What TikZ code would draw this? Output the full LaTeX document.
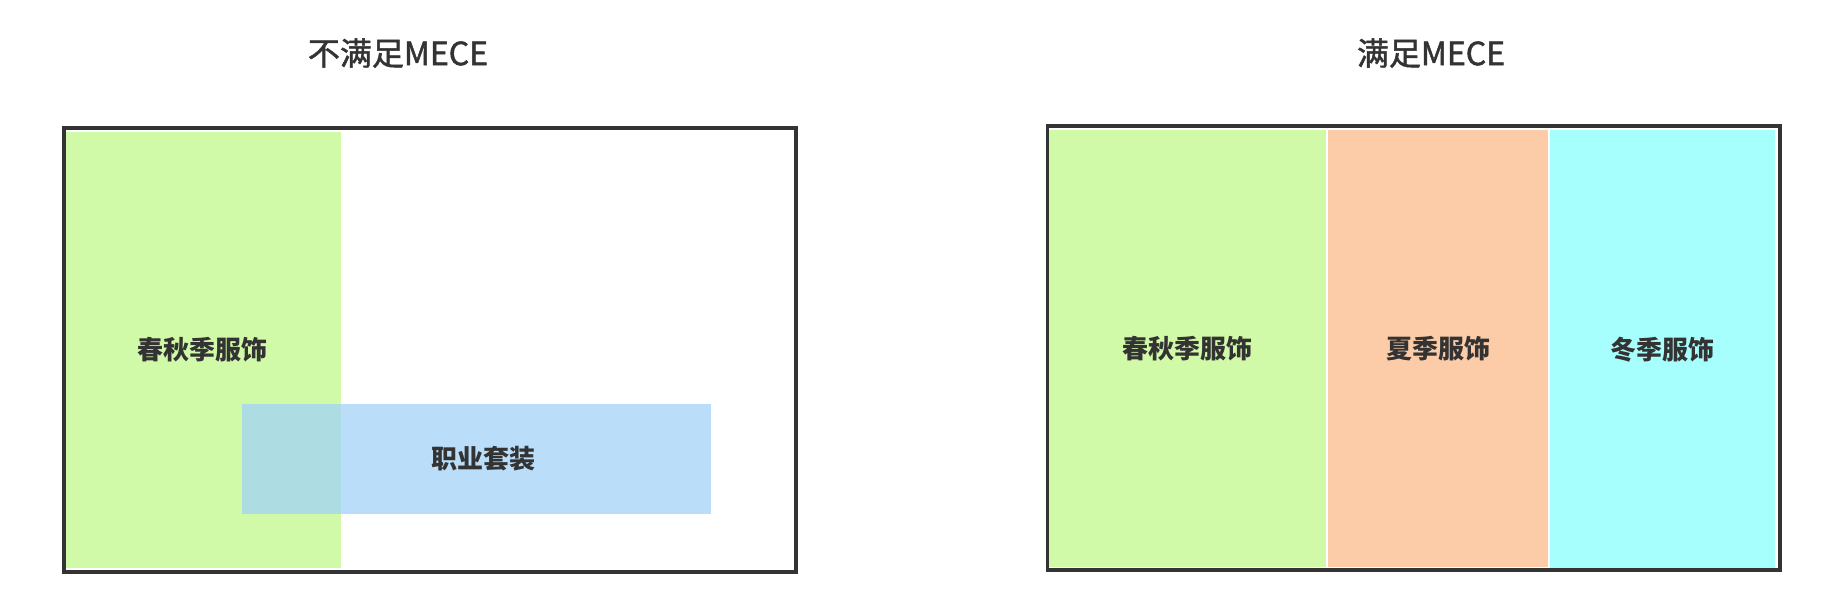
\documentclass[tikz,border=0pt]{standalone}
\usepackage{fontspec}
\setmainfont{Noto Sans CJK SC}
\newfontfamily\titlefont[BoldFont={Noto Sans CJK SC},BoldFeatures={FakeBold=1.5}]{Noto Sans CJK SC}
\definecolor{txt}{HTML}{333333}
\definecolor{edge}{HTML}{333333}
\definecolor{cgreen}{HTML}{D0FAA7}
\definecolor{corange}{HTML}{FCCBA7}
\definecolor{ccyan}{HTML}{A6FFFC}
\definecolor{cblue}{HTML}{A3D3F8}
\tikzset{
  region/.style={draw=none, inner sep=0pt, outer sep=0pt, text=txt, font=\fontsize{26}{30}\selectfont\bfseries},
  frame/.style={draw=edge, line width=3.6pt, fill=none, inner sep=0pt, outer sep=0pt},
  title/.style={text=txt, inner sep=0pt, font=\titlefont\bfseries\fontsize{32}{38}\selectfont}
}
\begin{document}
\begin{tikzpicture}[x=1pt,y=-1pt]
\useasboundingbox (0,0) rectangle (1822,598);
% titles
\node[title] (t1) at (398,53) {不满足MECE};
\node[title] (t2) at (1431,53) {满足MECE};
% left box
\node[region, fill=cgreen, minimum width=277pt, minimum height=436pt] (spring) at (202.5,350) {};
\node[region, fill=cblue, fill opacity=0.75, text opacity=1, minimum width=469pt, minimum height=110pt] (suit) at (476.5,459) {};
\node[region] at (spring.center) {春秋季服饰};
\node[region] at ([xshift=7pt]suit.center) {职业套装};
\node[frame, minimum width=732pt, minimum height=444pt] (leftbox) at (430,350) {};
% right box
\node[region, fill=cgreen, minimum width=277pt, minimum height=437pt] (spring2) at (1187.5,348.5) {春秋季服饰};
\node[region, fill=corange, minimum width=220pt, minimum height=437pt] (summer) at (1438,348.5) {夏季服饰};
\node[region, fill=ccyan, minimum width=225pt, minimum height=440pt] (winter) at (1662.5,350) {冬季服饰};
\node[frame, minimum width=732.5pt, minimum height=444pt] (rightbox) at (1413.75,348) {};
\end{tikzpicture}
\end{document}
